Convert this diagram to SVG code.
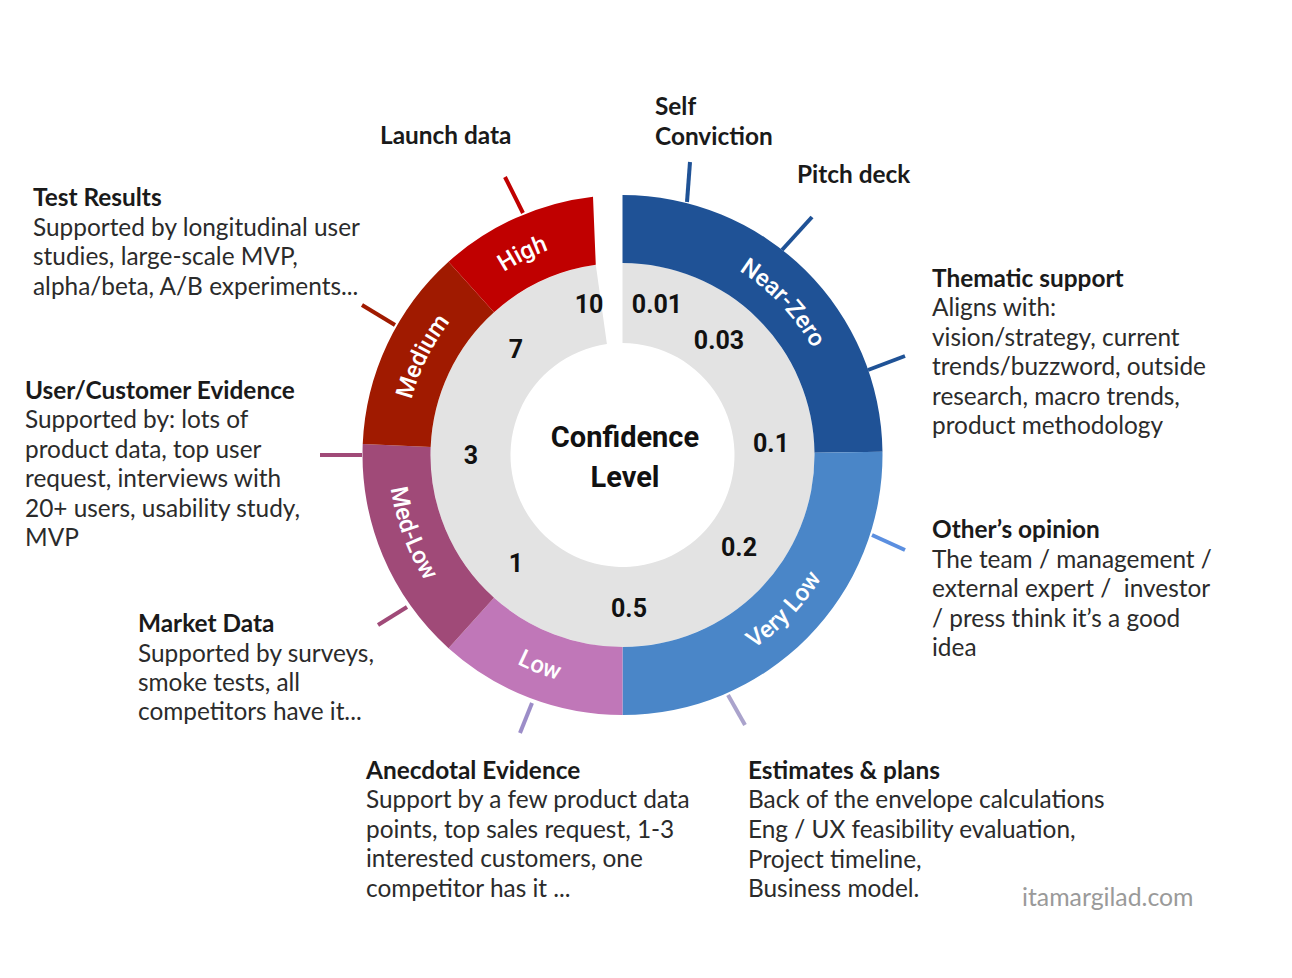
<svg xmlns="http://www.w3.org/2000/svg" width="1292" height="978" viewBox="0 0 1292 978">
<style>
.t{font-family:Lato,"Open Sans","Liberation Sans",sans-serif;font-size:24.4px;fill:#1a1a1a;font-weight:700}
.b{font-family:Lato,"Open Sans","Liberation Sans",sans-serif;font-size:24.4px;fill:#2b2b2b}
.num{font-family:Roboto,"Liberation Sans",sans-serif;font-size:25px;font-weight:700;fill:#111;text-anchor:middle}
.ctr{font-family:Roboto,"Liberation Sans",sans-serif;font-size:29px;font-weight:700;fill:#111;text-anchor:middle}
.seg{font-family:Roboto,"Liberation Sans",sans-serif;font-size:24px;font-weight:500;fill:#fff;text-anchor:middle}
.tick{stroke-width:4;fill:none}
.wm{font-family:Lato,"Open Sans","Liberation Sans",sans-serif;font-size:24.8px;fill:#9a9a9a}
</style>
<defs>
<path id="pHigh" d="M422.7,367.7 A218,218 0 0,1 673.8,243.1"/>
<path id="pMedium" d="M410.8,507 A218,218 0 0,1 534.5,255.5"/>
<path id="pNear" d="M647.2,238.4 A218,218 0 0,1 840.1,441.7"/>
<path id="pMedLow" d="M402,376.5 A234,234 0 0,0 506.9,658.5"/>
<path id="pLow" d="M417,567 A234,234 0 0,0 697.1,676.8"/>
<path id="pVeryLow" d="M647.8,687.6 A234,234 0 0,0 856,470.5"/>
</defs>
<rect width="1292" height="978" fill="#fff"/>

<g id="ring" transform="translate(622.5,455)">
<path d="M0,-192 A192,192 0 1,1 -26.72,-190.13 L-15.59,-110.91 A112,112 0 1,0 0,-112 Z" fill="#e3e3e3"/>
</g>
<g id="near-zero">
<path transform="translate(622.5,455)" d="M0,-260 A260,260 0 0,1 259.98,-3.18 L191.99,-2.35 A192,192 0 0,0 0,-192 Z" fill="#1f5296"/>
<text class="seg"><textPath href="#pNear" startOffset="50%">Near-Zero</textPath></text>
</g>
<g id="very-low">
<path transform="translate(622.5,455)" d="M259.98,-3.18 A260,260 0 0,1 0,260 L0,192 A192,192 0 0,0 191.99,-2.35 Z" fill="#4a86c8"/>
<text class="seg"><textPath href="#pVeryLow" startOffset="50%">Very Low</textPath></text>
</g>
<g id="low">
<path transform="translate(622.5,455)" d="M0,260 A260,260 0 0,1 -173.97,193.22 L-128.47,142.68 A192,192 0 0,0 0,192 Z" fill="#c077b8"/>
<text class="seg"><textPath href="#pLow" startOffset="50%">Low</textPath></text>
</g>
<g id="med-low">
<path transform="translate(622.5,455)" d="M-173.97,193.22 A260,260 0 0,1 -259.77,-10.89 L-191.83,-8.04 A192,192 0 0,0 -128.47,142.68 Z" fill="#a04a78"/>
<text class="seg"><textPath href="#pMedLow" startOffset="50%">Med-Low</textPath></text>
</g>
<g id="medium">
<path transform="translate(622.5,455)" d="M-259.77,-10.89 A260,260 0 0,1 -173.97,-193.22 L-128.47,-142.68 A192,192 0 0,0 -191.83,-8.04 Z" fill="#a01a00"/>
<text class="seg"><textPath href="#pMedium" startOffset="50%">Medium</textPath></text>
</g>
<g id="high">
<path transform="translate(622.5,455)" d="M-173.97,-193.22 A260,260 0 0,1 -29.5,-258.3 L-26.72,-190.13 A192,192 0 0,0 -128.47,-142.68 Z" fill="#c00000"/>
<text class="seg"><textPath href="#pHigh" startOffset="50%">High</textPath></text>
</g>

<g id="scale">
<text class="num" x="589" y="313">10</text>
<text class="num" x="657" y="313">0.01</text>
<text class="num" x="719" y="349">0.03</text>
<text class="num" x="516" y="358">7</text>
<text class="num" x="471" y="464">3</text>
<text class="num" x="771" y="452">0.1</text>
<text class="num" x="516" y="572">1</text>
<text class="num" x="739" y="556">0.2</text>
<text class="num" x="629" y="617">0.5</text>
</g>
<g id="center">
<text class="ctr" x="625" y="447">Confidence</text>
<text class="ctr" x="625" y="487">Level</text>
</g>

<g id="connectors">
<line class="tick" x1="505" y1="177" x2="523" y2="213" stroke="#c00000"/>
<line class="tick" x1="362" y1="305" x2="395" y2="325" stroke="#a01a00"/>
<line class="tick" x1="320" y1="455" x2="362" y2="455" stroke="#a04a78"/>
<line class="tick" x1="407" y1="607" x2="378" y2="625" stroke="#a04a78"/>
<line class="tick" x1="532" y1="703" x2="520" y2="733" stroke="#9c8dc8"/>
<line class="tick" x1="728" y1="695" x2="745" y2="725" stroke="#aaa3cc"/>
<line class="tick" x1="872" y1="535" x2="905" y2="550" stroke="#5b8fe0"/>
<line class="tick" x1="868" y1="370" x2="905" y2="356" stroke="#1f5296"/>
<line class="tick" x1="782" y1="250" x2="812" y2="217" stroke="#1f5296"/>
<line class="tick" x1="687" y1="202" x2="690" y2="162" stroke="#1f5296"/>
</g>

<g id="launch-data"><text class="t" x="380" y="144">Launch data</text></g>
<g id="self-conviction"><text class="t" x="655" y="115">Self</text><text class="t" x="655" y="145">Conviction</text></g>
<g id="pitch-deck"><text class="t" x="797" y="183">Pitch deck</text></g>

<g id="test-results">
<text class="t" x="33" y="206">Test Results</text>
<text class="b" x="33" y="236">Supported by longitudinal user</text>
<text class="b" x="33" y="265">studies, large-scale MVP,</text>
<text class="b" x="33" y="295">alpha/beta, A/B experiments...</text>
</g>
<g id="user-evidence">
<text class="t" x="25" y="399">User/Customer Evidence</text>
<text class="b" x="25" y="428">Supported by: lots of</text>
<text class="b" x="25" y="458">product data, top user</text>
<text class="b" x="25" y="487">request, interviews with</text>
<text class="b" x="25" y="517">20+ users, usability study,</text>
<text class="b" x="25" y="546">MVP</text>
</g>
<g id="market-data">
<text class="t" x="138" y="632">Market Data</text>
<text class="b" x="138" y="662">Supported by surveys,</text>
<text class="b" x="138" y="691">smoke tests, all</text>
<text class="b" x="138" y="720">competitors have it...</text>
</g>
<g id="anecdotal">
<text class="t" x="366" y="779">Anecdotal Evidence</text>
<text class="b" x="366" y="808">Support by a few product data</text>
<text class="b" x="366" y="838">points, top sales request, 1-3</text>
<text class="b" x="366" y="867">interested customers, one</text>
<text class="b" x="366" y="897">competitor has it ...</text>
</g>
<g id="estimates">
<text class="t" x="748" y="779">Estimates &amp; plans</text>
<text class="b" x="748" y="808">Back of the envelope calculations</text>
<text class="b" x="748" y="838">Eng / UX feasibility evaluation,</text>
<text class="b" x="748" y="868">Project timeline,</text>
<text class="b" x="748" y="897">Business model.</text>
</g>
<g id="thematic">
<text class="t" x="932" y="287">Thematic support</text>
<text class="b" x="932" y="316">Aligns with:</text>
<text class="b" x="932" y="346">vision/strategy, current</text>
<text class="b" x="932" y="375">trends/buzzword, outside</text>
<text class="b" x="932" y="405">research, macro trends,</text>
<text class="b" x="932" y="434">product methodology</text>
</g>
<g id="others-opinion">
<text class="t" x="932" y="538">Other’s opinion</text>
<text class="b" x="932" y="568">The team / management /</text>
<text class="b" x="932" y="597" xml:space="preserve">external expert /  investor</text>
<text class="b" x="932" y="627">/ press think it’s a good</text>
<text class="b" x="932" y="656">idea</text>
</g>
<text class="wm" x="1022" y="906">itamargilad.com</text>
</svg>
